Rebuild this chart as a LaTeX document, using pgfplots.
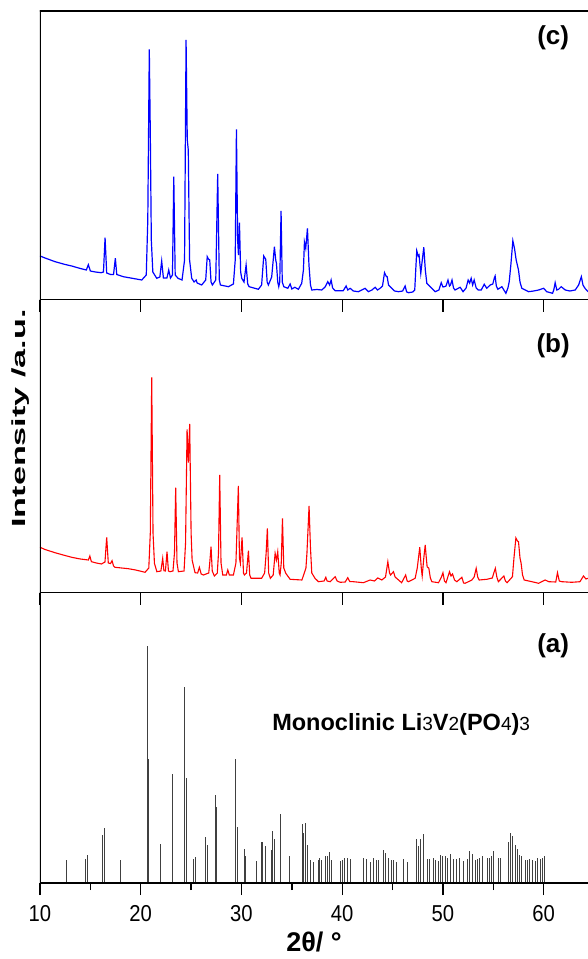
\documentclass[border=0pt]{standalone}
\usepackage{pgfplots}
\pgfplotsset{compat=1.18}
\usepackage{pgfplotstable}
\usepackage{fontspec}
\setmainfont{Liberation Sans}
\usepackage{graphicx}

\pgfplotstableread{
x h
10 44
10.5 42
11.5 38.3
12.5 35.5
13.15 34
14.0 31.5
14.6 30
14.8 35.3
15.0 29
15.5 28
16.06 27.3
16.3 28
16.46 62.3
16.62 27
17.0 25.5
17.3 25.5
17.48 41.7
17.62 25.5
18.27 23.3
19.0 22
20.1 20
20.55 25
20.7 80
20.85 250.7
20.95 166.7
21.05 60
21.2 28
21.59 21.7
21.9 23
22.08 39
22.25 22
22.6 22
22.78 30
22.95 22
23.15 25
23.28 123.3
23.42 25
23.7 21.7
24.1 20
24.35 40
24.5 260
24.62 160
24.72 150
24.85 40
25.06 21.7
25.3 18
25.5 20
25.6 17
26.05 15
26.45 20
26.6 43.3
26.72 41
26.85 40
26.98 18
27.11 15
27.45 20
27.64 126
27.8 20
27.91 15
28.7 13.3
29.2 16
29.38 40
29.5 170.7
29.62 60
29.7 45
29.8 77.3
29.92 28
30.03 21.7
30.25 18
30.46 35
30.62 16
30.76 13.3
31.68 10.7
32.0 15
32.21 44
32.41 40.7
32.55 18
32.67 15
33.0 23
33.27 53.3
33.4 40
33.47 36.7
33.6 18
33.7 13.3
33.8 18
33.93 89
34.05 18
34.2 13.3
34.6 11.7
34.83 16
35.0 11
35.3 12.7
35.65 10.7
35.98 16.7
36.15 30
36.25 58
36.38 51.7
36.55 71.7
36.7 35
36.85 15
36.98 10
37.5 10.5
37.97 10
38.3 13
38.57 18.3
38.75 15
38.9 20
39.05 12
39.3 9.3
40.1 9.3
40.39 14
40.55 10
40.79 11.7
41.1 9
41.6 8.3
42.27 11.7
42.6 8.3
42.95 10
43.27 12.7
43.5 10
43.76 11.7
44.0 14
44.2 27.3
44.35 24
44.46 23.3
44.6 15
44.76 13.3
45.2 9
45.6 8.3
46.0 9
46.25 14
46.4 8
46.6 7.3
47.0 8
47.2 10
47.3 30
47.4 49.3
47.55 44
47.63 45
47.8 26.7
47.95 40
48.1 52.7
48.25 30
48.4 16.7
48.73 13.3
49.23 8.3
49.6 10
49.83 17.3
50.0 13
50.15 13.3
50.3 14
50.5 20
50.65 14
50.75 15
50.9 20
51.05 12
51.2 10
51.71 12.7
52.0 8.3
52.3 12
52.5 20
52.65 17
52.8 21.7
52.95 15
53.1 20
53.3 12
53.5 10
53.8 10
54.1 15.7
54.35 11.7
54.69 15
54.95 16
55.1 22
55.18 24
55.3 14
55.45 10.7
55.85 13.3
56.25 6.7
56.45 12
56.58 18.3
56.74 35
56.94 59.3
57.1 51.7
57.27 40
57.5 30
57.65 18
57.83 11.7
58.5 8.3
59.0 9
59.5 10
60.0 11.7
60.3 8.3
60.88 6.7
61.0 10
61.14 17.3
61.3 10
61.48 10.7
61.74 13.3
62.14 10
62.6 9
63.13 10
63.47 15
63.74 23.3
63.9 15
64.1 11.7
64.4 8.3
}\bluedata

\pgfplotstableread{
x h
10 45.7
10.5 43.5
11.49 40.3
12.3 38
13.15 35.7
14.0 34
14.8 33
14.95 37
15.1 31.3
15.6 30
16.1 29
16.45 31
16.62 55.7
16.78 30
17.0 29.5
17.15 32.3
17.3 27
17.45 25.7
18.77 24.3
19.5 23
20.43 20.7
20.8 25
20.95 60
21.09 215.7
21.22 60
21.36 29.7
21.6 21.3
22.0 22
22.18 34.7
22.3 22.3
22.45 22
22.61 41.3
22.75 22
22.91 21.3
23.2 22
23.35 40
23.47 105.3
23.6 30
23.74 21.3
24.3 22
24.45 50
24.6 163.7
24.73 130.3
24.86 169
25.0 60
25.1 33
25.39 20.3
25.65 20
25.82 25.7
26.0 19
26.22 18
26.75 20
26.85 30
26.98 46.3
27.1 22
27.31 17
27.6 20
27.72 40
27.84 118
27.97 30
28.14 18
28.5 18
28.64 23
28.8 18
29.2 18
29.45 30
29.69 107
29.8 35
29.89 29.7
30.06 55.7
30.2 20
30.29 18
30.5 20
30.69 42.3
30.82 18
30.95 14.7
32.0 14.7
32.3 20
32.45 40
32.57 64.7
32.7 20
32.87 14.7
33.15 18
33.34 39.7
33.47 33
33.6 41.3
33.75 20
33.83 18
33.95 30
34.07 74.7
34.2 25
34.4 19.7
34.83 13.7
36.0 13
36.4 25
36.5 40
36.71 87
36.85 45
36.98 20
37.3 14.7
37.64 11.3
38.2 12
38.37 15.7
38.5 12
38.8 11.3
39.3 16.3
39.5 12
39.8 10.7
40.3 11
40.55 15.3
40.75 11.5
41.1 11.3
42.1 10.3
42.77 13
43.2 12
43.53 15
43.93 13
44.3 16
44.53 31.3
44.7 20
44.8 18
45.09 21.3
45.25 16
45.4 14.7
45.9 10.3
46.3 18
46.45 12
46.58 11.3
47.24 14.7
47.45 25
47.7 45.7
47.85 25
47.94 17
48.1 35
48.24 48
48.35 35
48.43 26.3
48.6 24.7
48.75 15
48.9 11.3
49.56 10.3
49.85 16
50.0 20.3
50.15 12
50.3 10.3
50.55 18
50.65 21.3
50.8 17
50.95 19
51.15 13
51.38 11.3
51.88 15.7
52.05 10
52.2 9.7
52.87 13
53.1 16
53.3 24.7
53.45 16
53.6 13
54.36 13.7
54.9 15
55.05 20
55.2 24.7
55.35 16
55.5 11.3
56.05 17
56.2 12
56.37 10.3
56.9 16.3
57.05 35
57.24 55
57.4 52
57.5 51.3
57.65 35
57.76 29.7
57.9 18
58.07 13
58.83 11.3
59.5 9.7
60.15 13
60.5 11.3
61.2 11
61.37 20.3
61.55 12
61.8 11.3
62.8 10.7
63.6 11.3
63.95 17
64.2 14
64.4 14.7
}\reddata

\pgfplotstableread{
x h
12.65 23.3
14.5 24.3
14.67 28
16.22 47.6
16.38 54.6
17.97 23
20.63 236.6
20.8 124
21.92 39
23.11 109
24.3 195.6
24.57 105.3
25.26 23.6
25.46 25.6
26.45 46.3
26.65 38
27.45 87.6
27.55 75.6
29.36 124
29.63 55.6
30.26 34.3
30.43 27.3
31.49 22
31.95 41
32.1 40.6
32.37 36.6
32.94 32.6
33.11 52
33.3 44.3
33.83 69.3
34.73 27
36.05 59.3
36.18 50
36.38 59.6
36.58 38
36.85 22.7
37.1 21
37.6 23.4
37.78 25.4
37.97 22.7
38.3 27
38.5 26.7
38.7 31
38.9 23.4
39.8 22
40.05 22.7
40.25 24.7
40.5 24.7
40.8 24.4
42.07 24.7
42.4 24
42.77 21
43.1 25.4
43.37 23.4
43.63 23.4
44.1 32.7
44.3 30
44.57 25.4
44.84 23.4
45.1 22.7
45.4 21.4
46.06 24.4
46.5 21
47.38 43.7
47.6 36.7
47.8 44.4
48.07 48.7
48.47 24.4
48.7 24
49.1 24.7
49.3 23.4
49.55 21.7
49.75 28
50.0 26.7
50.25 27.4
50.48 25.4
50.78 28.7
51.05 24.4
51.3 24
51.6 25
52.0 22
52.4 24
52.66 31.7
52.96 28.7
53.23 23.4
53.46 24
53.66 25.4
53.9 26.7
54.4 25.4
54.6 25.4
54.8 26.7
55.0 32.1
55.47 25.4
55.7 25.4
56.55 40.7
56.74 50
56.94 47.4
57.17 38.4
57.37 33.7
57.6 27.7
57.84 27
58.17 23.4
58.37 23.4
58.63 24
58.9 23.4
59.17 22
59.4 25
59.65 24
59.85 25.4
60.08 27
}\sticks

\pgfplotsset{
  panel/.style={
    scale only axis, width=548pt,
    xmin=10, xmax=64.4, ymin=0,
    axis line style={draw=none},
    ytick=\empty,
    xtick={10,20,...,60},
    xtick pos=bottom,
    tick align=outside,
    major tick length=12pt,
    minor tick length=7pt,
    every tick/.style={black, line width=1.4pt},
    xticklabels={},
  },
}
\newcommand\spines{%
  \draw[line width=1.4pt, line cap=rect] (rel axis cs:0,1) -- (rel axis cs:0,0) -- (rel axis cs:1,0);}
\newcommand\sn[1]{{\mdseries\fontsize{19}{19}\selectfont #1}}

\begin{document}
\begin{tikzpicture}
\useasboundingbox (-40pt,-76pt) rectangle (548pt,883pt);
% panel (a)
\begin{axis}[panel, name=pa, at={(0pt,0pt)}, anchor=south west, height=290pt, ymax=290,
  minor xtick={15,25,...,55},
  xticklabel={\fontsize{23}{23}\selectfont\scalebox{0.88}[1]{\pgfmathprintnumber[assume math mode=true]{\tick}}},
  xticklabel style={inner sep=0pt, anchor=north, yshift=-10pt},
]
\addplot[ycomb, black!75, line width=0.9pt, no markers] table[x=x, y=h] {\sticks};
\spines
\node[font=\fontsize{26}{26}\selectfont\bfseries] at (axis cs:60.94,237) {(a)};
\node[anchor=base, font=\fontsize{23.5}{24}\selectfont\bfseries] at (axis cs:45.85,153)
  {Monoclinic Li\sn{3}V\sn{2}(PO\sn{4})\sn{3}};
\end{axis}
% panel (b)
\begin{axis}[panel, name=pb, at={(0pt,290pt)}, anchor=south west, height=293pt, ymax=293]
\addplot[red, line width=1.1pt, no markers] table[x=x, y=h] {\reddata};
\spines
\node[font=\fontsize{26}{26}\selectfont\bfseries] at (axis cs:60.94,247) {(b)};
\end{axis}
% panel (c)
\begin{axis}[panel, name=pc, at={(0pt,583pt)}, anchor=south west, height=289pt, ymax=289]
\addplot[blue, line width=1.2pt, no markers] table[x=x, y=h] {\bluedata};
\spines
\draw[line width=1.4pt, line cap=rect] (rel axis cs:0,1) -- (rel axis cs:1,1);
\node[font=\fontsize{26}{26}\selectfont\bfseries] at (axis cs:60.94,262.5) {(c)};
\end{axis}
\node[font=\fontsize{27}{27}\selectfont\bfseries] at (274pt,-59pt) {2θ/ °};
\node[rotate=90, font=\fontsize{19}{19}\selectfont\bfseries] at (-19.5pt,464.5pt)
  {\scalebox{1.8}[1]{Intensity /a.u.}};
\end{tikzpicture}
\end{document}
